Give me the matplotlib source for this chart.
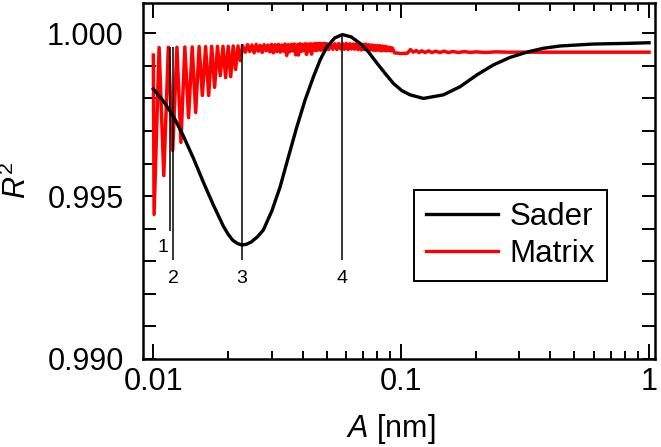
import matplotlib
matplotlib.use("Agg")
import matplotlib.pyplot as plt
from matplotlib.ticker import LogLocator, NullFormatter, FixedLocator, FixedFormatter
from matplotlib.lines import Line2D

plt.rcParams['font.family'] = ['Liberation Sans', 'DejaVu Sans']
plt.rcParams['mathtext.fontset'] = 'custom'
plt.rcParams['mathtext.rm'] = 'Liberation Sans'
plt.rcParams['mathtext.it'] = 'Liberation Sans:italic'

# ---- Sader curve ----
sader_x = [0.01000, 0.01097, 0.01204, 0.01321, 0.01450, 0.01591, 0.01746, 0.01916, 0.02000,
           0.02088, 0.02180, 0.02274, 0.02370, 0.02480, 0.02630, 0.02779, 0.03005, 0.03246, 0.03506, 0.03791,
           0.04095, 0.04423, 0.04708, 0.05009, 0.05401, 0.05790, 0.06280, 0.06827,
           0.07375, 0.07972, 0.08610, 0.09301, 0.1006, 0.1086, 0.1229, 0.1480,
           0.1729, 0.2019, 0.2356, 0.2751, 0.3213, 0.3749, 0.4378, 0.5966, 0.8138, 1.0]
sader_y = [0.99829, 0.99792, 0.99746, 0.99685, 0.99617, 0.99543, 0.99473, 0.99408, 0.99384,
           0.99365, 0.99355, 0.99350, 0.99352, 0.99359, 0.99375, 0.99396, 0.99454, 0.99528, 0.99620, 0.99712,
           0.99795, 0.99866, 0.99918, 0.99958, 0.99986, 0.99996, 0.99989, 0.99969,
           0.99943, 0.99909, 0.99877, 0.99846, 0.99824, 0.99811, 0.99800, 0.99811,
           0.99836, 0.99872, 0.99903, 0.99926, 0.99942, 0.99954, 0.99961, 0.99967, 0.99969, 0.99971]

# ---- Matrix curve: large oscillations ----
matrix_head_x = [0.01000, 0.01007, 0.01055, 0.01102, 0.01150, 0.01197, 0.01245, 0.01292,
                 0.01340, 0.01387, 0.01435, 0.01482, 0.01530, 0.01577, 0.01625, 0.01672,
                 0.01720, 0.01767, 0.01815, 0.01862, 0.01910, 0.01957, 0.02005, 0.02052,
                 0.02100, 0.02147, 0.02195, 0.02242, 0.02290]
matrix_head_y = [0.99933, 0.99444, 0.99956, 0.99563, 0.99957, 0.99640, 0.99957, 0.99665,
                 0.99958, 0.99741, 0.99958, 0.99757, 0.99959, 0.99809, 0.99959, 0.99809,
                 0.99960, 0.99834, 0.99960, 0.99870, 0.99960, 0.99864, 0.99960, 0.99867,
                 0.99961, 0.99889, 0.99961, 0.99916, 0.99962]

# ---- Matrix curve: dense small oscillations ----
matrix_band_x = [0.0235, 0.0240, 0.0245, 0.0250, 0.0255, 0.0260, 0.0265, 0.0270, 0.0275, 0.0280,
                 0.0285, 0.0290, 0.0295, 0.0300, 0.0305, 0.0310, 0.0315, 0.0320, 0.0325, 0.0330,
                 0.0335, 0.0340, 0.0345, 0.0350, 0.0355, 0.0360, 0.0365, 0.0370, 0.0375, 0.0380,
                 0.0385, 0.0390, 0.0395, 0.0400, 0.0405, 0.0410, 0.0415, 0.0420, 0.0425, 0.0430,
                 0.0435, 0.0440, 0.0445, 0.0450, 0.0455, 0.0460, 0.0465, 0.0470, 0.0475, 0.0480,
                 0.0485, 0.0490, 0.0495, 0.0500,
                 0.0510, 0.0520, 0.0530, 0.0540, 0.0550, 0.0560, 0.0570, 0.0580, 0.0590, 0.0600,
                 0.0610, 0.0620, 0.0630, 0.0640, 0.0650, 0.0660, 0.0670, 0.0680, 0.0690, 0.0700,
                 0.0710, 0.0720, 0.0730, 0.0740, 0.0750, 0.0760, 0.0770, 0.0780, 0.0790, 0.0800,
                 0.0810, 0.0820, 0.0830, 0.0840, 0.0850, 0.0860, 0.0870, 0.0880, 0.0890, 0.0900,
                 0.0910, 0.0920]
matrix_band_y = [0.99942, 0.99965, 0.99944, 0.99964, 0.99940, 0.99966, 0.99945, 0.99963, 0.99941, 0.99965,
                 0.99946, 0.99964, 0.99943, 0.99966, 0.99940, 0.99965, 0.99944, 0.99966, 0.99942, 0.99964,
                 0.99945, 0.99967, 0.99932, 0.99965, 0.99943, 0.99966, 0.99946, 0.99967, 0.99934, 0.99965,
                 0.99933, 0.99968, 0.99944, 0.99966, 0.99947, 0.99968, 0.99935, 0.99967, 0.99946, 0.99968,
                 0.99936, 0.99967, 0.99948, 0.99969, 0.99947, 0.99968, 0.99949, 0.99969, 0.99948, 0.99968,
                 0.99950, 0.99969, 0.99949, 0.99968,
                 0.99950, 0.99969, 0.99951, 0.99968, 0.99950, 0.99969, 0.99952, 0.99968, 0.99951, 0.99969,
                 0.99950, 0.99968, 0.99952, 0.99967, 0.99951, 0.99968, 0.99950, 0.99967, 0.99949, 0.99966,
                 0.99950, 0.99967, 0.99948, 0.99965, 0.99949, 0.99964, 0.99948, 0.99963, 0.99947, 0.99962,
                 0.99948, 0.99962, 0.99946, 0.99961, 0.99947, 0.99960, 0.99946, 0.99958, 0.99947, 0.99957,
                 0.99946, 0.99955]

# ---- Matrix curve: tail ----
matrix_tail_x = [0.0940, 0.1000, 0.1060, 0.1090, 0.1120, 0.1150, 0.1180, 0.1210, 0.1250, 0.1290,
                 0.1330, 0.1380, 0.1430, 0.1490, 0.1550, 0.1620, 0.1700, 0.1800, 0.1900, 0.2000,
                 0.2200, 0.2400, 0.2700, 0.3500, 0.5000, 1.0000]
matrix_tail_y = [0.99940, 0.99938, 0.99939, 0.99950, 0.99942, 0.99947, 0.99941, 0.99946, 0.99941, 0.99946,
                 0.99941, 0.99945, 0.99941, 0.99945, 0.99941, 0.99944, 0.99941, 0.99944, 0.99941, 0.99943,
                 0.99941, 0.99943, 0.99942, 0.99942, 0.99942, 0.99942]

# ---- marker lines ----
mark_labels = ['1', '2', '3', '4']
mark_x = [0.01168, 0.01204, 0.02274, 0.0577]
mark_top = [0.99959, 0.99959, 0.99967, 0.99996]
mark_bottom = [0.99393, 0.99304, 0.99304, 0.99304]
mark_label_x = [0.01094, 0.01204, 0.02274, 0.0577]
mark_label_y = [0.99341, 0.99246, 0.99246, 0.99246]

yticks = [0.990, 0.991, 0.992, 0.993, 0.994, 0.995, 0.996, 0.997, 0.998, 0.999, 1.000]
ytick_labels = ['0.990', '', '', '', '', '0.995', '', '', '', '', '1.000']
xticks = [0.01, 0.1, 1]
xtick_labels = ['0.01', '0.1', '1']

matrix_x = matrix_head_x + matrix_band_x + matrix_tail_x
matrix_y = matrix_head_y + matrix_band_y + matrix_tail_y

fig = plt.figure(figsize=(6.61, 4.47), dpi=100)
ax = fig.add_axes([0.2168, 0.1969, 0.7741, 0.7964])

ax.plot(matrix_x, matrix_y, color='#ff0000', lw=2.5, zorder=2)
ax.plot(sader_x, sader_y, color='black', lw=2.4, zorder=3)
ax.vlines(mark_x, mark_bottom, mark_top, color='black', lw=1.1, zorder=4)
for t, tx, ty in zip(mark_labels, mark_label_x, mark_label_y):
    ax.text(tx, ty, t, fontsize=14, ha='center', va='center', zorder=5)

ax.set_xscale('log')
ax.set_xlim(0.00911, 1.057)
ax.set_ylim(0.990, 1.00093)
ax.xaxis.set_major_locator(FixedLocator(xticks))
ax.xaxis.set_major_formatter(FixedFormatter(xtick_labels))
ax.xaxis.set_minor_locator(LogLocator(base=10, subs=[2, 3, 4, 5, 6, 7, 8, 9]))
ax.xaxis.set_minor_formatter(NullFormatter())
ax.yaxis.set_major_locator(FixedLocator(yticks))
ax.yaxis.set_major_formatter(FixedFormatter(ytick_labels))

ax.tick_params(which='both', direction='in', top=True, right=True, width=1.4, labelsize=22)
ax.tick_params(axis='x', which='major', length=10.5, pad=6)
ax.tick_params(axis='x', which='minor', length=5.8)
ax.tick_params(axis='y', which='major', length=9.4, pad=14)
for s in ax.spines.values():
    s.set_linewidth(1.8)

ax.set_xlabel('$A$ [nm]', fontsize=22, va='bottom')
ax.set_ylabel('$R^2$', fontsize=22)
ax.xaxis.set_label_coords(0.484, -0.245)
ax.yaxis.set_label_coords(-0.215, 0.5)

handles = [Line2D([], [], color='black', lw=2.4), Line2D([], [], color='#ff0000', lw=2.4)]
leg = ax.legend(handles, ['Sader', 'Matrix'], loc='upper left', bbox_to_anchor=(0.529, 0.474),
                fontsize=22.5, frameon=True, fancybox=False, edgecolor='black', framealpha=1,
                borderaxespad=0, handlelength=2.3, handletextpad=0.38, labelspacing=0.22,
                borderpad=0.38)
leg.get_frame().set_linewidth(1.4)

fig.savefig('out.png', dpi=100)
